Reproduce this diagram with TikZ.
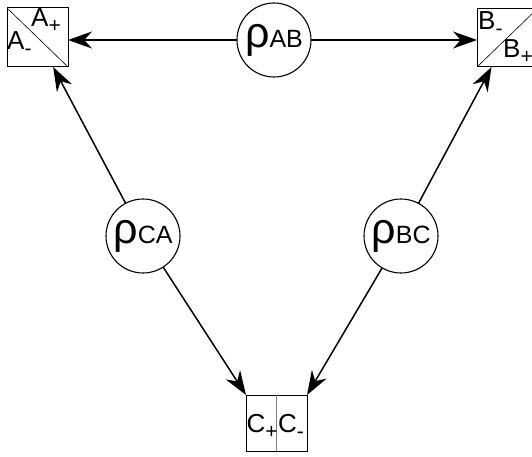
\documentclass[tikz,border=0pt]{standalone}
\usepackage{fontspec}
\setmainfont{Liberation Sans}
\usetikzlibrary{positioning}
\usetikzlibrary{shapes,arrows.meta}

\newcommand{\rholabel}[1]{{\fontsize{43}{43}\selectfont ρ}{\fontsize{25}{25}\selectfont #1}}
\newcommand{\partysub}[1]{\raisebox{-6pt}{\fontsize{21}{21}\selectfont #1}}

\begin{document}
\begin{tikzpicture}[x=1pt,y=1pt,
                    party/.style={rectangle,
                                  inner sep=0mm,outer sep=0,
                                  draw=black,line width=1pt
                                  },
                    source/.style={circle,
                                   inner sep=0mm,outer sep=0,
                                   draw=black,line width=1.1pt,
                                   minimum size=74pt
                                   },
                    pairconnection/.style={
                                   line width=1.5pt,
                                   -{Stealth[length=24pt,width=17pt]}
                                   },
                    divider/.style={line width=0.6pt},
                    lbl/.style={inner sep=0pt,anchor=base west,
                                font=\fontsize{26}{28}\selectfont}
                    ]
\useasboundingbox (0,0) rectangle (532,456);
% boxes of the three parties
\node[party,minimum width=61pt,minimum height=59pt] (A) at (37.5,418.5) { };
\node[party,minimum width=60pt,minimum height=58pt] (B) at (507,418) { };
\node[party,minimum width=61pt,minimum height=56pt] (C) at (276.5,33) { };
\draw[divider] (A.north west) -- (A.south east);
\draw[divider] (B.south west) -- (B.north east);
\draw[divider,gray] (C.north) -- (C.south);
\node[lbl] (Aplus) at (31,429) {A\partysub{+}};
\node[lbl] (Aminus) at (7,406) {A\partysub{-}};
\node[lbl] (Bminus) at (478,426) {B\partysub{-}};
\node[lbl] (Bplus) at (503,398) {B\partysub{+}};
\node[lbl] (Cplus) at (246.5,24) {C\partysub{+}};
\node[lbl] (Cminus) at (278,24) {C\partysub{-}};
% sources
\node[source] (rhoAB) at (274,416) {\rholabel{AB}};
\node[source] (rhoCA) at (143,220) {\rholabel{CA}};
\node[source] (rhoBC) at (401,220) {\rholabel{BC}};
% connections
\draw[pairconnection] (rhoAB) -- (rhoAB -| A.east);
\draw[pairconnection] (rhoAB) -- (rhoAB -| B.west);
\draw[pairconnection] (rhoCA) -- (A);
\draw[pairconnection] (rhoCA) -- (C.north west);
\draw[pairconnection] (rhoBC) -- (B);
\draw[pairconnection] (rhoBC) -- (C.north east);
\end{tikzpicture}
\end{document}
